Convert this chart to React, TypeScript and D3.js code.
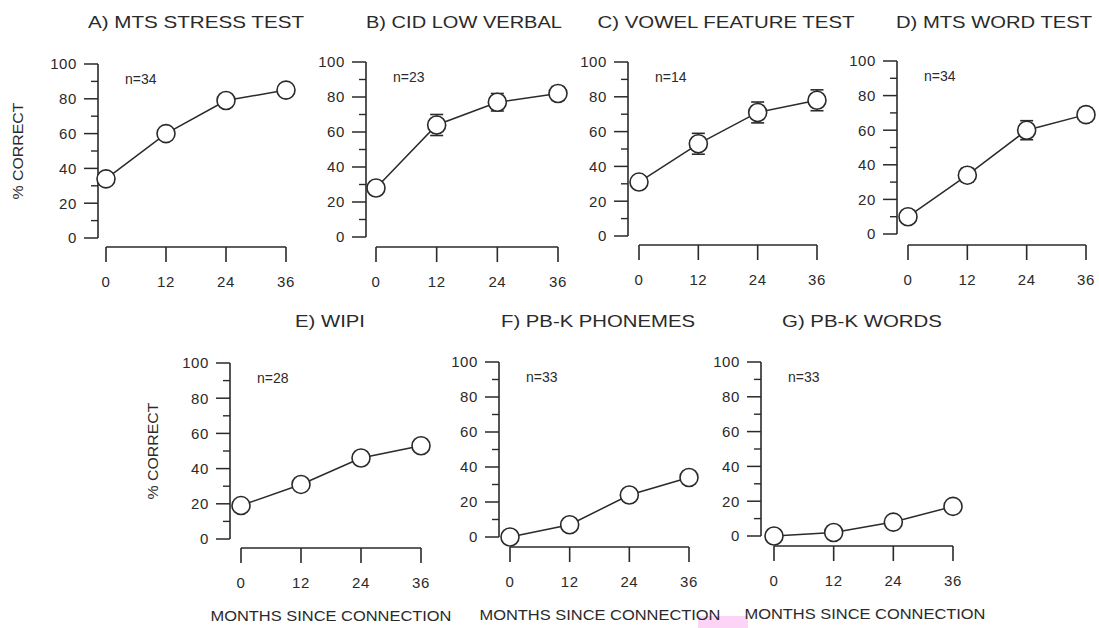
import React from "react";
import * as d3 from "d3";

// ---------- data ----------
const months = [0, 12, 24, 36];
const yTickValues = [0, 20, 40, 60, 80, 100];
const yMinorValues = [10, 30, 50, 70, 90];

const titles = [
  "A) MTS STRESS TEST",
  "B) CID LOW VERBAL",
  "C) VOWEL FEATURE TEST",
  "D) MTS WORD TEST",
  "E) WIPI",
  "F) PB-K PHONEMES",
  "G) PB-K WORDS",
];
const nLabels = ["n=34", "n=23", "n=14", "n=34", "n=28", "n=33", "n=33"];

const seriesA = [34, 60, 79, 85];
const seriesB = [28, 64, 77, 82];
const seriesC = [31, 53, 71, 78];
const seriesD = [10, 34, 60, 69];
const seriesE = [19, 31, 46, 53];
const seriesF = [0, 7, 24, 34];
const seriesG = [0, 2, 8, 17];

const errA = [3, 3, 3, 3];
const errB = [3, 6, 5, 4];
const errC = [3, 6, 6, 6];
const errD = [3, 4, 5.5, 4];
const errE = [3, 3, 3, 3];
const errF = [1, 2, 3, 3];
const errG = [0, 1, 2, 3];

const allSeries = [seriesA, seriesB, seriesC, seriesD, seriesE, seriesF, seriesG];
const allErrors = [errA, errB, errC, errD, errE, errF, errG];

const yAxisLabel = "% CORRECT";
const xAxisLabel = "MONTHS SINCE CONNECTION";

// ---------- layout ----------
type Layout = {
  ax: number; y100: number; y0: number; xLineY: number; x0: number; x36: number;
  titleX: number; titleY: number; titleW: number;
  yLabel?: { x: number; y: number };
  xLabel?: { x: number; y: number };
};
const layouts: Layout[] = [
  { ax: 98, y100: 64, y0: 238, xLineY: 247, x0: 106, x36: 286, titleX: 196, titleY: 28, titleW: 216, yLabel: { x: 18, y: 151 } },
  { ax: 366, y100: 62, y0: 237, xLineY: 247, x0: 376, x36: 558, titleX: 464, titleY: 28, titleW: 196 },
  { ax: 628, y100: 62, y0: 236, xLineY: 245, x0: 639, x36: 817, titleX: 726, titleY: 28, titleW: 257 },
  { ax: 897, y100: 61, y0: 234, xLineY: 245, x0: 908, x36: 1086, titleX: 994, titleY: 28, titleW: 196 },
  { ax: 230, y100: 363, y0: 539, xLineY: 548, x0: 241, x36: 421, titleX: 330, titleY: 327, titleW: 70, yLabel: { x: 153, y: 451 }, xLabel: { x: 331, y: 621 } },
  { ax: 499, y100: 362, y0: 537, xLineY: 547, x0: 510, x36: 689, titleX: 598, titleY: 327, titleW: 194, xLabel: { x: 600, y: 620 } },
  { ax: 761, y100: 362, y0: 536, xLineY: 546, x0: 774, x36: 953, titleX: 862, titleY: 327, titleW: 160, xLabel: { x: 865, y: 619 } },
];

const INK = "#2a2a2a";
const FONT = "Arial, 'Liberation Sans', Helvetica, sans-serif";

function Panel({ i }: { i: number }) {
  const L = layouts[i];
  const values = allSeries[i];
  const errs = allErrors[i];
  const x = d3.scaleLinear().domain([0, 36]).range([L.x0, L.x36]);
  const y = d3.scaleLinear().domain([0, 100]).range([L.y0, L.y100]);
  const pts = months.map((m, k) => [m, values[k]] as [number, number]);
  const line = d3
    .line<[number, number]>()
    .x((d) => x(d[0]))
    .y((d) => y(d[1]));
  const majorLen = 14;
  const minorLen = 7;
  const r = 9;
  const cap = 6.5;
  return (
    <g>
      <text
        x={L.titleX}
        y={L.titleY}
        textAnchor="middle"
        fontSize={17}
        textLength={L.titleW}
        lengthAdjust="spacingAndGlyphs"
        fill={INK}
        fontFamily={FONT}
      >
        {titles[i]}
      </text>
      <line x1={L.ax} x2={L.ax} y1={y(100)} y2={y(0)} stroke={INK} strokeWidth={1.6} />
      {yTickValues.map((t) => (
        <g key={"yt" + t}>
          <line x1={L.ax - majorLen} x2={L.ax} y1={y(t)} y2={y(t)} stroke={INK} strokeWidth={1.5} />
          <text
            x={L.ax - 21}
            y={y(t)}
            dy="0.36em"
            textAnchor="end"
            fontSize={15}
            letterSpacing={0.6}
            fill={INK}
            fontFamily={FONT}
          >
            {t}
          </text>
        </g>
      ))}
      {yMinorValues.map((t) => (
        <line key={"ym" + t} x1={L.ax - minorLen} x2={L.ax} y1={y(t)} y2={y(t)} stroke={INK} strokeWidth={1.4} />
      ))}
      <line x1={x(0)} x2={x(36)} y1={L.xLineY} y2={L.xLineY} stroke={INK} strokeWidth={1.6} />
      {months.map((m) => (
        <g key={"xt" + m}>
          <line x1={x(m)} x2={x(m)} y1={L.xLineY} y2={L.xLineY + 15} stroke={INK} strokeWidth={1.6} />
          <text
            x={x(m)}
            y={L.xLineY + 40}
            textAnchor="middle"
            fontSize={15}
            letterSpacing={0.6}
            fill={INK}
            fontFamily={FONT}
          >
            {m}
          </text>
        </g>
      ))}
      <text x={L.ax + 27} y={L.y100 + 20} fontSize={14} fill={INK} fontFamily={FONT}>
        {nLabels[i]}
      </text>
      <path d={line(pts) || ""} fill="none" stroke={INK} strokeWidth={1.5} />
      {pts.map((p, k) => (
        <g key={"e" + k}>
          <line x1={x(p[0])} x2={x(p[0])} y1={y(p[1] - errs[k])} y2={y(p[1] + errs[k])} stroke={INK} strokeWidth={1.4} />
          <line x1={x(p[0]) - cap} x2={x(p[0]) + cap} y1={y(p[1] + errs[k])} y2={y(p[1] + errs[k])} stroke={INK} strokeWidth={1.6} />
          <line x1={x(p[0]) - cap} x2={x(p[0]) + cap} y1={y(p[1] - errs[k])} y2={y(p[1] - errs[k])} stroke={INK} strokeWidth={1.6} />
        </g>
      ))}
      {pts.map((p, k) => (
        <circle key={"c" + k} cx={x(p[0])} cy={y(p[1])} r={r} fill="#fff" stroke={INK} strokeWidth={1.6} />
      ))}
      {L.yLabel && (
        <text
          transform={`translate(${L.yLabel.x},${L.yLabel.y}) rotate(-90)`}
          textAnchor="middle"
          dy="0.35em"
          fontSize={15}
          textLength={97}
          lengthAdjust="spacingAndGlyphs"
          fill={INK}
          fontFamily={FONT}
        >
          {yAxisLabel}
        </text>
      )}
      {L.xLabel && (
        <text
          x={L.xLabel.x}
          y={L.xLabel.y}
          textAnchor="middle"
          fontSize={15}
          textLength={241}
          lengthAdjust="spacingAndGlyphs"
          fill={INK}
          fontFamily={FONT}
        >
          {xAxisLabel}
        </text>
      )}
    </g>
  );
}

export default function App() {
  return (
    <svg
      width={1099}
      height={628}
      style={{ position: "absolute", left: 0, top: 0, background: "#fff" }}
    >
      <rect x={0} y={0} width={1099} height={628} fill="#fff" />
      <rect x={698} y={616} width={50} height={12} fill="#fbd4f6" />
      {titles.map((_, i) => (
        <Panel key={i} i={i} />
      ))}
    </svg>
  );
}
